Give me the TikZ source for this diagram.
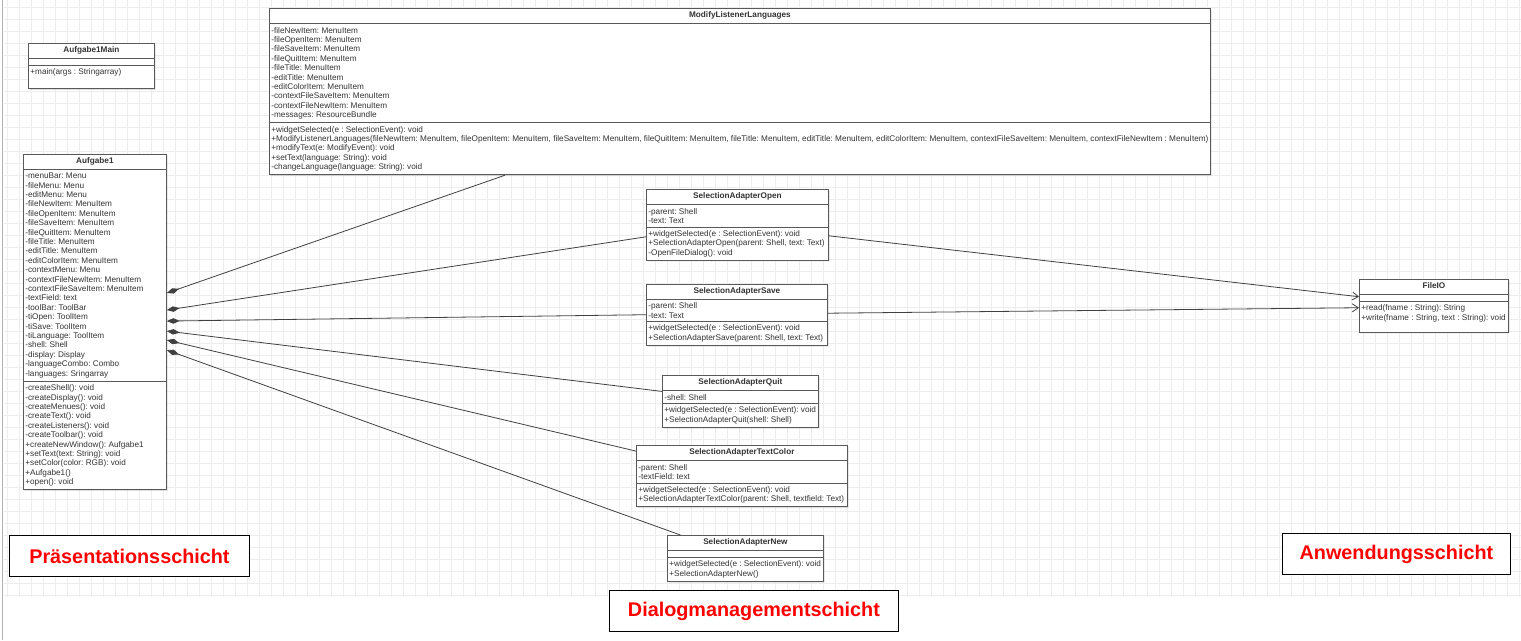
\documentclass[tikz,border=0pt]{standalone}
\usepackage{fontspec}
\setmainfont{Liberation Sans}
\usepackage{tikz}
\usetikzlibrary{positioning,%
  arrows.meta,%
  shapes.multipart,%
  shadows%
}
\frenchspacing
\newcommand{\clstitle}[1]{\rule[-2.6pt]{0pt}{7.6pt}\textbf{#1}}

\begin{document}
\begin{tikzpicture}
  [x=1pt, y=-1pt,
   cls/.style={rectangle split,
     rectangle split parts=3,
     rectangle split part align={center,left,left},
     draw=black!65, fill=white, line width=0.8pt,
     drop shadow={shadow xshift=1.2pt, shadow yshift=-1.2pt, opacity=0.25},
     anchor=north west, align=left,
     inner xsep=2pt, inner ysep=3pt,
     font=\fontsize{8.2}{9.4}\selectfont, text=black!80},
   layer/.style={rectangle,
     draw=black, fill=white, line width=0.9pt,
     anchor=north west, minimum height=41pt,
     font=\fontsize{19.8}{22}\selectfont\bfseries, text=red},
   comp/.style={{Diamond[length=13pt,width=5.5pt]}-,
     draw=black!75, line width=0.8pt},
   assoc/.style={-{Straight Barb[length=6pt,width=8pt]},
     draw=black!75, line width=0.8pt},
   gridline/.style={draw=black!7, line width=0.4pt}]

  \useasboundingbox (0,0) rectangle (1521,640);

  % background grid
  \foreach \gx in {7,19,...,1519}
    \draw[gridline] (\gx,0) -- (\gx,597);
  \foreach \gy in {7,19,...,595}
    \draw[gridline] (4,\gy) -- (1521,\gy);
  \draw[black!30] (2.5,0) -- (2.5,640);

  % classes
  \node[cls, minimum width=126pt] (main) at (28,43)
    {\clstitle{Aufgabe1Main}
     \nodepart{second}\hphantom{x}%
     \nodepart{third}
     +main(args : Stringarray)\rule[-10.5pt]{0pt}{10.5pt}};

  \node[cls, minimum width=939pt] (modify) at (269,8)
    {\clstitle{ModifyListenerLanguages}
     \nodepart{second}
     -fileNewItem: MenuItem\\
     -fileOpenItem: MenuItem\\
     -fileSaveItem: MenuItem\\
     -fileQuitItem: MenuItem\\
     -fileTitle: MenuItem\\
     -editTitle: MenuItem\\
     -editColorItem: MenuItem\\
     -contextFileSaveItem: MenuItem\\
     -contextFileNewItem: MenuItem\\
     -messages: ResourceBundle
     \nodepart{third}
     +widgetSelected(e : SelectionEvent): void\\
     +ModifyListenerLanguages(fileNewItem: MenuItem, fileOpenItem: MenuItem, fileSaveItem: MenuItem, fileQuitItem: MenuItem, fileTitle: MenuItem, editTitle: MenuItem, editColorItem: MenuItem, contextFileSaveItem: MenuItem, contextFileNewItem : MenuItem)\\
     +modifyText(e: ModifyEvent): void\\
     +setText(language: String): void\\
     -changeLanguage(language: String): void};

  \node[cls, minimum width=143pt] (aufgabe) at (23,154)
    {\clstitle{Aufgabe1}
     \nodepart{second}
     -menuBar: Menu\\
     -fileMenu: Menu\\
     -editMenu: Menu\\
     -fileNewItem: MenuItem\\
     -fileOpenItem: MenuItem\\
     -fileSaveItem: MenuItem\\
     -fileQuitItem: MenuItem\\
     -fileTitle: MenuItem\\
     -editTitle: MenuItem\\
     -editColorItem: MenuItem\\
     -contextMenu: Menu\\
     -contextFileNewItem: MenuItem\\
     -contextFileSaveItem: MenuItem\\
     -textField: text\\
     -toolBar: ToolBar\\
     -tiOpen: ToolItem\\
     -tiSave: ToolItem\\
     -tiLanguage: ToolItem\\
     -shell: Shell\\
     -display: Display\\
     -languageCombo: Combo\\
     -languages: Sringarray
     \nodepart{third}
     -createShell(): void\\
     -createDisplay(): void\\
     -createMenues(): void\\
     -createText(): void\\
     -createListeners(): void\\
     -createToolbar(): void\\
     +createNewWindow(): Aufgabe1\\
     +setText(text: String): void\\
     +setColor(color: RGB): void\\
     +Aufgabe1()\\
     +open(): void};

  \node[cls, minimum width=182pt] (open) at (646,189)
    {\clstitle{SelectionAdapterOpen}
     \nodepart{second}
     -parent: Shell\\
     -text: Text
     \nodepart{third}
     +widgetSelected(e : SelectionEvent): void\\
     +SelectionAdapterOpen(parent: Shell, text: Text)\\
     -OpenFileDialog(): void};

  \node[cls, minimum width=181pt, below=23pt of open.south west, anchor=north west] (save)
    {\clstitle{SelectionAdapterSave}
     \nodepart{second}
     -parent: Shell\\
     -text: Text
     \nodepart{third}
     +widgetSelected(e : SelectionEvent): void\\
     +SelectionAdapterSave(parent: Shell, text: Text)};

  \node[cls, minimum width=156pt] (quit) at (662,375)
    {\clstitle{SelectionAdapterQuit}
     \nodepart{second}
     -shell: Shell
     \nodepart{third}
     +widgetSelected(e : SelectionEvent): void\\
     +SelectionAdapterQuit(shell: Shell)};

  \node[cls, minimum width=211pt] (color) at (636,445)
    {\clstitle{SelectionAdapterTextColor}
     \nodepart{second}
     -parent: Shell\\
     -textField: text
     \nodepart{third}
     +widgetSelected(e : SelectionEvent): void\\
     +SelectionAdapterTextColor(parent: Shell, textfield: Text)};

  \node[cls, minimum width=156pt] (new) at (667,535)
    {\clstitle{SelectionAdapterNew}
     \nodepart{second}\hphantom{x}%
     \nodepart{third}
     +widgetSelected(e : SelectionEvent): void\\
     +SelectionAdapterNew()};

  \node[cls, minimum width=149pt] (fileio) at (1359,279)
    {\clstitle{FileIO}
     \nodepart{second}\hphantom{x}%
     \nodepart{third}
     +read(fname : String): String\\
     +write(fname : String, text : String): void\rule[-8.4pt]{0pt}{8.4pt}};

  % layers
  \node[layer, minimum width=240pt] (praes) at (9,535) {Präsentationsschicht};
  \node[layer, minimum width=289pt] (dialog) at (609,590) {Dialogmanagementschicht};
  \node[layer, minimum width=228pt] (anw) at (1282,533) {Anwendungsschicht};

  % compositions
  \draw[comp] ([yshift=29pt]aufgabe.east) -- ([xshift=-235pt]modify.south);
  \draw[comp] ([yshift=12pt]aufgabe.east) -- ([yshift=-12pt]open.west);
  \draw[comp] ([yshift=1pt]aufgabe.east) -- (save.west);
  \draw[comp] ([yshift=-9pt]aufgabe.east) -- ([yshift=10pt]quit.west);
  \draw[comp] ([yshift=-18pt]aufgabe.east) -- ([yshift=25pt]color.west);
  \draw[comp] ([yshift=-28pt]aufgabe.east) -- ([xshift=-65pt]new.north);

  % associations
  \draw[assoc] ([yshift=-11pt]open.east) -- ([yshift=9pt]fileio.west);
  \draw[assoc] ([yshift=1.5pt]save.east) -- ([yshift=-2pt]fileio.west);
\end{tikzpicture}
\end{document}
